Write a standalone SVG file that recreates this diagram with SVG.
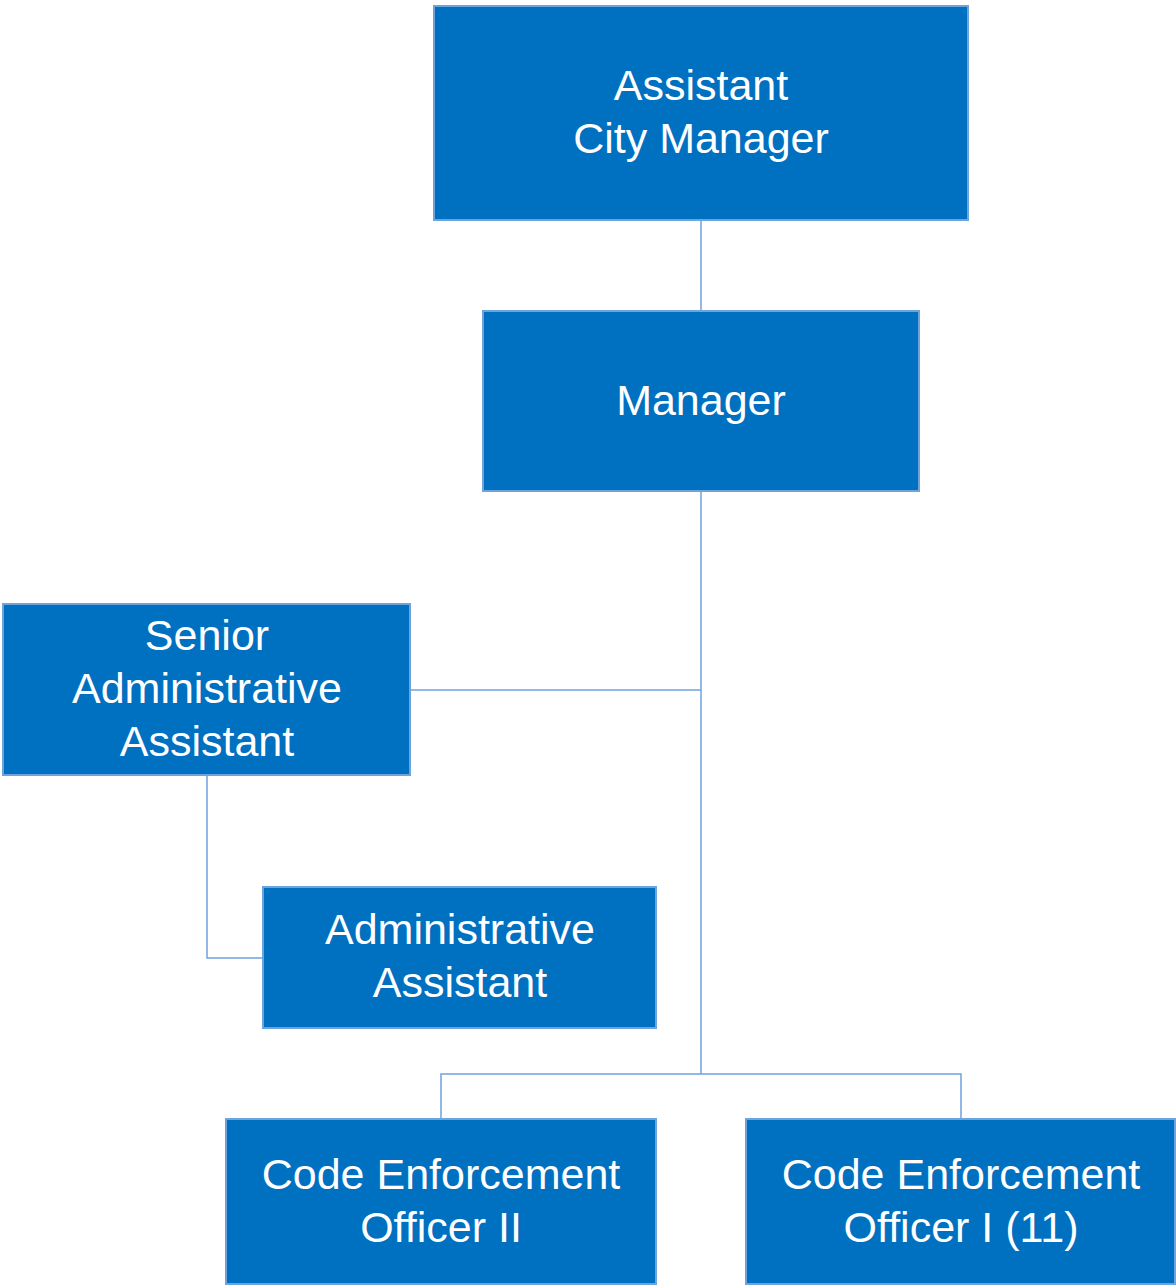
<svg xmlns="http://www.w3.org/2000/svg" width="1176" height="1286" viewBox="0 0 1176 1286">
<style>
.box{fill:#0070C0;stroke:#6FA3DC;stroke-width:2}
.lbl{fill:#fff;font-family:"Liberation Sans",Arial,sans-serif;font-size:43px;text-anchor:middle}
.con{fill:none;stroke:#6FA3DC;stroke-width:1.5}
</style>
<rect width="1176" height="1286" fill="#fff"/>
<g id="connectors">
<path class="con" d="M701 220V311"/>
<path class="con" d="M701 491V1074"/>
<path class="con" d="M410 690H701"/>
<path class="con" d="M207 775V958H263"/>
<path class="con" d="M441 1119V1074H961V1119"/>
</g>
<g id="acm"><rect class="box" x="434" y="6" width="534" height="214"/><text class="lbl" x="701" y="100">Assistant</text><text class="lbl" x="701" y="153">City Manager</text></g>
<g id="manager"><rect class="box" x="483" y="311" width="436" height="180"/><text class="lbl" x="701" y="415">Manager</text></g>
<g id="saa"><rect class="box" x="3" y="604" width="407" height="171"/><text class="lbl" x="207" y="650">Senior</text><text class="lbl" x="207" y="703">Administrative</text><text class="lbl" x="207" y="756">Assistant</text></g>
<g id="aa"><rect class="box" x="263" y="887" width="393" height="141"/><text class="lbl" x="460" y="944">Administrative</text><text class="lbl" x="460" y="997">Assistant</text></g>
<g id="ceo2"><rect class="box" x="226" y="1119" width="430" height="165"/><text class="lbl" x="441" y="1189">Code Enforcement</text><text class="lbl" x="441" y="1242">Officer II</text></g>
<g id="ceo1"><rect class="box" x="746" y="1119" width="429" height="165"/><text class="lbl" x="961" y="1189">Code Enforcement</text><text class="lbl" x="961" y="1242">Officer I (11)</text></g>
</svg>
